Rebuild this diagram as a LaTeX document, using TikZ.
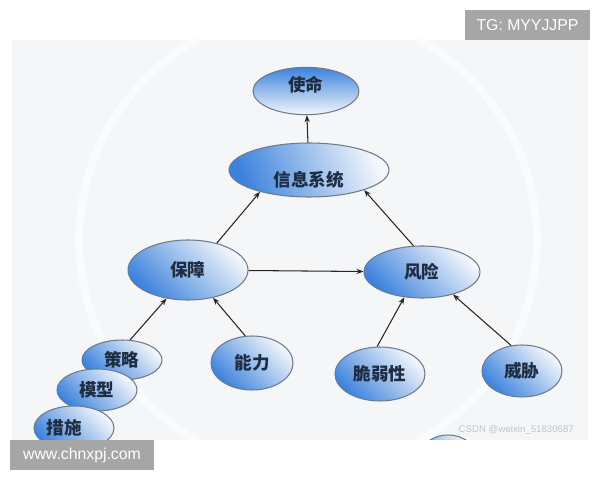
\documentclass[tikz,border=0pt]{standalone}
\usepackage{fontspec}
\setmainfont{Liberation Sans}
\newfontfamily\cjk{Noto Sans CJK SC}
\usepackage{xcolor}
\usepackage{tikz}
\usetikzlibrary{arrows.meta,shapes.geometric}
\definecolor{nsInk}{HTML}{1F2D42}
\definecolor{nsBlue}{HTML}{3C82DC}
\definecolor{nsPale}{HTML}{F4F7FC}
\definecolor{nsEdge}{HTML}{6E7A88}
\definecolor{nsPanel}{HTML}{F5F6F8}
\definecolor{nsTag}{HTML}{A6A6A6}
\definecolor{nsMark}{HTML}{BFC4CA}
\tikzset{
  ebase/.style={ellipse,draw=nsEdge,line width=0.6pt,
    inner sep=0pt,font=\cjk\bfseries\fontsize{10}{12}\selectfont,
    text=nsInk},
  ebox/.style={ebase,top color=nsPale,bottom color=nsBlue,shading angle=-45},
  topbox/.style={ebase,top color=nsBlue,bottom color=nsPale},
  sbox/.style={ebox,minimum width=1.6cm,minimum height=0.84cm},
  tagbox/.style={rectangle,fill=nsTag,inner sep=0pt,
    font=\fontsize{9}{11}\selectfont,text=white},
  arr/.style={-{Stealth[length=4pt,width=3pt]},line width=0.6pt,
    color=black!85},
}

\begin{document}
\begin{tikzpicture}[x=0.02cm,y=-0.02cm]

  \useasboundingbox (0,0) rectangle (600,480);
  \fill[nsPanel] (12,40) rectangle (588,440);

  % faint ring and the cut-off ellipse at the bottom edge
  \begin{scope}
    \clip (12,40) rectangle (588,440);
    \draw[white!55!nsPanel,line width=0.16cm] (308,240) circle[radius=4.58cm];
    \shade[top color=nsPale,bottom color=nsBlue,shading angle=-45,
      draw=nsEdge,line width=0.6pt] (448,457) ellipse[x radius=28,y radius=22];
  \end{scope}

  \node[topbox,minimum width=2.12cm,minimum height=0.92cm,
    text height=0.35cm,text depth=0.32cm] (mission) at (306,91) {使命};
  \node[ebox,minimum width=3.2cm,minimum height=1.08cm,
    shading angle=-70,text height=0.67cm,text depth=0cm] (infosys) at (309,170) {信息系统};
  \node[ebox,minimum width=2.4cm,minimum height=1.2cm] (assure) at (188,270) {保障};
  \node[ebox,minimum width=2.32cm,minimum height=1.04cm] (risk) at (422,272) {风险};

  \node[sbox,minimum height=0.8cm] (policy) at (122,360) {策略};
  \node[sbox] (model) at (97,390) {模型};
  \node[sbox,minimum height=0.88cm,text width=1.1cm,align=left] (measure) at (74,428) {措施};
  \node[sbox,minimum width=1.64cm,minimum height=1.08cm] (ability) at (252,363) {能力};
  \node[sbox,minimum width=1.8cm,minimum height=1.08cm] (vuln) at (380,374) {脆弱性};
  \node[sbox,minimum height=1.04cm] (threat) at (522,371) {威胁};

  \draw[arr] (infosys) -- (mission);
  \draw[arr] (assure.43) -- (infosys.204);
  \draw[arr] (risk.108) -- (infosys.340);
  \draw[arr] (assure) -- (risk);
  \draw[arr] (policy.68) -- (assure.233);
  \draw[arr] (ability.104) -- (assure.312);
  \draw[arr] (vuln.96) -- (risk.235);
  \draw[arr] (threat.113) -- (risk.324);

  \node[anchor=east,font=\fontsize{5.5}{7}\selectfont,text=nsMark]
    (csdn) at (580,430) {CSDN @weixin\_51830687};
  \node[tagbox,minimum width=2.5cm,minimum height=0.6cm] (tg) at (527.5,25) {TG: MYYJJPP};
  \node[tagbox,minimum width=2.88cm,minimum height=0.6cm] (web) at (82,455) {www.chnxpj.com};

\end{tikzpicture}
\end{document}
